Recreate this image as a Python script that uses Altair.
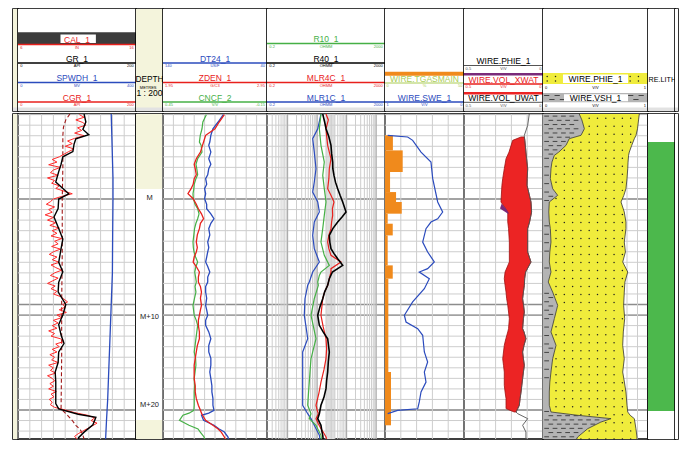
import altair as alt
import pandas as pd
import numpy as np

FONT = "Liberation Sans"
BLACK, RED, BLUE, GREEN = "#000000", "#e8201c", "#2b4bbd", "#46b046"
ORANGE, YELLOW, SHALE, FILLRED, PURPLE = "#f08a1c", "#f0ec3c", "#b4b4b4", "#ec2424", "#7a2a7a"
LITHGREEN, BEIGE, TGCOL = "#4cb84c", "#f4f4dc", "#a9cc55"
GRIDC, GRIDMAJ = "#cdcdcd", "#8c8c8c"

# ---------------- depth frame (metres relative to marker M)
D_TOP, D_BOT = -8.06, 22.75
GRID_D = list(range(-8, 23))
MAJOR_D = [0, 10, 11, 20]
DEPTH_LABELS = ["M", "M+10", "M+20"]
DEPTH_LABEL_D = [-0.1, 11.2, 19.5]
BEIGE_TOP = [D_TOP, 20.95]
BEIGE_BOT = [-0.95, D_BOT]

# ---------------- track 1
GR_D = [-8.06, -7.3, -6.6, -6.1, -5.7, -5.2, -4.5, -4.0, -3.3, -2.6,
        -1.6, -0.5, 0.0, 0.9, 1.7, 2.8, 3.8, 4.7, 6.0, 6.9,
        7.9, 8.8, 10.0, 11.0, 11.9, 12.9, 13.7, 14.5, 15.5, 16.4,
        17.3, 18.3, 19.4, 19.9, 20.4, 20.7, 21.4, 22.1, 22.6, 22.75]
GR_V = [112, 115, 110, 120, 98, 95, 93, 76, 73, 69,
        64, 86, 69, 68, 61, 69, 76, 73, 69, 76,
        69, 68, 81, 76, 69, 73, 78, 69, 68, 63,
        64, 64, 64, 69, 102, 132, 127, 112, 103, 102]
CGR_TOP, CGR_STEP = -8.0, 0.25
CGR_V = [104, 112, 98, 110, 115, 101, 108, 96, 112,
         96, 84, 92, 80, 95, 86, 78,
         70, 58, 66, 52, 72, 60, 55, 68, 50, 62, 57, 70, 64,
         78, 92, 74, 60,
         55, 48, 62, 52, 58, 46, 60, 50, 64, 54, 70, 58, 66, 56, 74, 62, 68, 57, 72, 60,
         53, 66, 58, 70, 56, 64, 74, 62, 55, 68, 59, 50, 63, 56, 66, 60, 72, 78, 84, 76,
         80, 70, 82, 66, 74, 60, 68, 58, 66, 52, 62, 56, 72, 78, 64, 70, 58, 66, 54, 62,
         57, 68, 52, 60, 55, 64, 50, 58, 62, 54, 60, 52, 65, 56, 61, 53, 58, 55, 62,
         80, 96, 118, 130, 124, 134, 126, 118, 110, 102, 96, 100]
CAL_D = [-8.06, -7.5, -6.8, -6.0, -3.0, 0.0, 5.0, 10.0, 15.0, 19.9, 20.5, 21.0, 21.45, 21.9, 22.4, 22.75]
CAL_V = [10.4, 10.05, 9.85, 9.8, 9.8, 9.75, 9.75, 9.7, 9.7, 9.65, 10.2, 10.6, 10.9, 11.3, 11.5, 11.6]
SP_D = [-8.06, -6.0, -2.0, 0.0, 3.0, 7.0, 10.0, 13.0, 16.0, 19.0, 21.0, 22.75]
SP_V = [316, 318, 322, 322, 321, 320, 316, 312, 308, 304, 300, 297]

# ---------------- track 3
T3_D = [-7.99, -7.3, -6.66, -6.04, -5.4, -5.09, -4.45, -3.82, -3.3, -2.87,
        -2.3, -1.93, -1.4, -0.98, -0.5, -0.03, 0.5, 0.92, 1.4, 1.87,
        2.3, 2.81, 3.4, 4.08, 4.6, 5.02, 5.5, 5.97, 6.4, 6.92,
        7.4, 7.87, 8.3, 8.82, 9.4, 10.08, 10.5, 11.02, 11.5, 11.97,
        12.6, 13.24, 13.9, 14.5, 15.1, 15.76, 16.4, 17.03, 17.7, 18.29,
        18.9, 19.55, 20.03, 20.3, 20.5, 20.98, 21.45, 21.8, 22.09, 22.56, 22.75]
DT_V = [82, 87, 92, 94, 95, 96, 94, 96, 94, 96,
        97, 99, 98, 100, 99, 100, 98, 98, 94, 91,
        94, 96, 95, 97, 96, 97, 98, 99, 97, 95,
        97, 97, 99, 99, 98, 99, 98, 97, 99, 99,
        96, 94, 96, 96, 94, 94, 95, 94, 93, 93,
        92, 92, 91, 96, 103, 101, 91, 86, 81, 77.5, 77]
ZDEN_V = [2.54, 2.49, 2.45, 2.36, 2.34, 2.33, 2.31, 2.27, 2.25, 2.26,
          2.27, 2.25, 2.24, 2.22, 2.19, 2.24, 2.27, 2.29, 2.32, 2.34,
          2.31, 2.30, 2.28, 2.27, 2.28, 2.27, 2.25, 2.24, 2.27, 2.30,
          2.29, 2.29, 2.31, 2.32, 2.31, 2.32, 2.31, 2.30, 2.29, 2.29,
          2.30, 2.30, 2.28, 2.27, 2.26, 2.25, 2.25, 2.25, 2.26, 2.26,
          2.27, 2.29, 2.31, 2.32, 2.33, 2.36, 2.43, 2.48, 2.51, 2.54, 2.55]
CNCF_V = [0.20, 0.22, 0.225, 0.235, 0.24, 0.23, 0.225, 0.25, 0.26, 0.255,
          0.25, 0.26, 0.27, 0.272, 0.277, 0.275, 0.265, 0.25, 0.242, 0.25,
          0.26, 0.268, 0.272, 0.277, 0.275, 0.271, 0.262, 0.25, 0.26, 0.267,
          0.262, 0.258, 0.265, 0.26, 0.268, 0.277, 0.274, 0.27, 0.258, 0.25,
          0.255, 0.26, 0.265, 0.27, 0.262, 0.26, 0.265, 0.27, 0.268, 0.27,
          0.27, 0.27, 0.272, 0.30, 0.335, 0.355, 0.30, 0.248, 0.235, 0.213, 0.21]

# ---------------- track 4 (resistivity, log)
R40_D = [-8.06, -7.3, -6.66, -5.9, -5.09, -4.3, -3.5, -2.9, -2.24, -1.6,
         -0.98, -0.35, 0.28, 0.8, 1.23, 1.7, 2.18, 2.8, 3.45, 4.1,
         4.71, 5.2, 5.66, 6.29, 6.92, 7.55, 8.18, 8.8, 9.45, 10.2,
         11.02, 11.97, 12.6, 13.24, 14.5, 15.4, 16.4, 17.2, 17.98, 18.8,
         19.55, 20.35, 20.82, 21.45, 22.0, 22.4, 22.75]
R40_V = [15.5, 18, 20, 25, 29.5, 31, 33.7, 34, 37.3, 42,
         49.8, 60, 73.6, 85, 95.2, 70, 49.8, 34, 25.9, 27,
         29.5, 38, 49.8, 73.6, 33, 25.9, 22.8, 18, 15.5, 12.5,
         10.5, 11.9, 16, 22.8, 25.9, 24, 22.8, 21, 20, 17,
         13.5, 11.9, 10.5, 13.5, 14.5, 15.5, 16]
MLR4C_D = [-8.06, -7.5, -6.66, -6.0, -5.09, -4.45, -3.82, -2.87, -1.93, -0.98,
           -0.3, 0.28, 0.9, 1.55, 2.18, 2.81, 3.45, 4.08, 4.71, 5.34,
           5.97, 6.6, 6.92, 7.55, 8.18, 8.8, 9.45, 10.2, 11.02, 12.1,
           13.24, 14.2, 15.14, 16.2, 17.35, 18.4, 19.55, 20.0, 20.35, 20.82,
           21.3, 21.77, 22.2, 22.56, 22.75]
MLR4C_V = [20, 24, 20, 21, 22.8, 25.9, 29.5, 25.9, 25, 22.8,
           30, 37.3, 33, 33.7, 31, 29.5, 25, 22.8, 25, 29.5,
           64.5, 29.5, 29.5, 25.9, 22.8, 18, 15.5, 14.5, 13.5, 16,
           20, 21, 20, 17, 13.5, 11.5, 9.16, 10, 11.0, 9.16,
           11, 13.5, 17, 20, 21]
R10_D = [-8.06, -6.66, -5.09, -3.5, -2.24, -0.98, 0.28, 1.55, 2.81, 4.08,
         5.34, 6.29, 6.92, 7.24, 7.87, 8.18, 9.45, 11.02, 12.1, 13.24,
         14.2, 15.14, 16.2, 17.35, 18.4, 19.55, 20.35, 20.82, 21.45, 22.4, 22.75]
R10_V = [13.5, 11.9, 13.5, 17.5, 15.5, 17.5, 20, 17.5, 15.5, 13.5,
         17.5, 25.9, 13.5, 11.9, 10.5, 11.0, 8.0, 6.2, 7.5, 9.16,
         7.5, 6.2, 5.8, 5.43, 5.1, 4.8, 6.2, 5.43, 9.16, 13.5, 14]
MLR1C_D = [-8.06, -6.66, -5.72, -4.45, -2.87, -1.61, -0.66, 0.28, 1.23, 2.18,
           3.45, 4.71, 5.97, 6.92, 7.87, 8.18, 9.45, 11.02, 12.1, 13.24,
           14.5, 16.4, 18.29, 19.55, 20.35, 20.82, 21.45, 22.4, 22.75]
MLR1C_V = [13.5, 10.5, 7.08, 8.02, 9.16, 8.02, 7.08, 10.5, 11.9, 8.02,
           7.08, 8.02, 11.9, 7.08, 5.43, 4.8, 3.88, 3.67, 4.2, 4.8,
           3.24, 3.24, 3.24, 3.24, 4.8, 6.2, 8.02, 11.9, 12.5]
RES_BAND = [20, 40]

# ---------------- track 5
TG_TOP = [-6.04, -4.61, -2.56, -0.66, 0.28, 1.39, 2.34, 3.45, 6.29, 7.55, 16.4]
TG_BOT = [-4.61, -2.56, -0.66, 0.28, 1.39, 2.34, 3.45, 6.29, 7.55, 16.4, 21.45]
TG_V = [5.0, 11.2, 3.2, 7.0, 10.6, 1.7, 4.9, 1.7, 4.9, 2.1, 3.8]
SWE_D = [-6.04, -5.88, -5.56, -4.45, -3.5, -1.93, 0.28, 1.23, 1.87, 2.18,
         2.81, 4.08, 5.02, 5.97, 6.6, 6.92, 7.55, 8.5, 9.76, 11.02,
         11.66, 12.29, 12.92, 14.5, 15.45, 16.4, 17.35, 18.29, 19.24, 19.88,
         20.03, 20.35]
SWE_V = [0.966, 0.713, 0.65, 0.544, 0.418, 0.396, 0.333, 0.27, 0.333, 0.418,
         0.481, 0.523, 0.46, 0.376, 0.46, 0.566, 0.439, 0.502, 0.65, 0.755,
         0.734, 0.586, 0.523, 0.502, 0.46, 0.502, 0.481, 0.544, 0.566, 0.586,
         0.84, 0.966]

# ---------------- track 6
RED_D = [-5.88, -5.56, -4.45, -3.82, -2.87, -1.93, -1.3, 0.28, 1.23, 2.18,
         2.81, 4.08, 5.02, 5.97, 6.92, 7.55, 8.18, 8.82, 9.45, 10.08,
         10.71, 11.34, 12.29, 12.6, 13.24, 13.87, 14.5, 15.14, 15.76, 16.4,
         17.03, 17.66, 18.29, 18.92, 19.55, 19.87, 20.19]
RED_R = [0.118, 0.115, 0.108, 0.104, 0.097, 0.100, 0.101, 0.076, 0.072, 0.085,
         0.097, 0.097, 0.097, 0.076, 0.11, 0.116, 0.118, 0.124, 0.129, 0.123,
         0.118, 0.124, 0.129, 0.12, 0.108, 0.12, 0.129, 0.124, 0.118, 0.124,
         0.129, 0.134, 0.139, 0.145, 0.150, 0.16, 0.171]
RED_L = [0.139, 0.192, 0.215, 0.234, 0.245, 0.255, 0.26, 0.266, 0.223, 0.223,
         0.218, 0.213, 0.213, 0.213, 0.24, 0.245, 0.24, 0.234, 0.23, 0.223,
         0.218, 0.213, 0.218, 0.223, 0.235, 0.245, 0.25, 0.255, 0.25, 0.245,
         0.245, 0.245, 0.24, 0.234, 0.234, 0.234, 0.182]
PHIE_TOP_D, PHIE_TOP_V = [-8.06, -6.98, -6.04], [0.087, 0.097, 0.118]
PHIE_BOT_D, PHIE_BOT_V = [20.35, 20.82, 21.45, 22.09, 22.75], [0.16, 0.097, 0.129, 0.108, 0.108]
PURP_D = [0.44, 0.9, 1.39]
PURP_A = [0.262, 0.272, 0.222]
PURP_B = [0.262, 0.235, 0.215]

# ---------------- track 7
T7_D = [-8.06, -7.5, -6.66, -6.04, -5.72, -5.09, -4.45, -4.14, -3.5, -2.87,
        -1.93, -0.98, -0.35, 0.28, 1.23, 2.18, 2.81, 4.08, 5.02, 5.97,
        6.92, 7.87, 8.82, 10.08, 11.34, 12.6, 13.87, 15.14, 16.4, 17.35,
        18.29, 19.55, 20.19, 20.5, 20.82, 21.14, 21.77, 22.56, 22.75]
VSH_V = [0.345, 0.37, 0.394, 0.362, 0.25, 0.219, 0.15, 0.108, 0.085, 0.076,
         0.07, 0.092, 0.14, 0.06, 0.055, 0.06, 0.07, 0.076, 0.065, 0.06,
         0.076, 0.05, 0.092, 0.14, 0.108, 0.076, 0.124, 0.092, 0.076, 0.065,
         0.06, 0.06, 0.076, 0.33, 0.648, 0.552, 0.426, 0.33, 0.32]
SAND_V = [0.917, 0.91, 0.9, 0.886, 0.87, 0.845, 0.822, 0.815, 0.81, 0.807,
          0.80, 0.79, 0.77, 0.743, 0.774, 0.79, 0.79, 0.774, 0.785, 0.759,
          0.807, 0.78, 0.774, 0.768, 0.778, 0.765, 0.759, 0.774, 0.759, 0.775,
          0.79, 0.8, 0.807, 0.83, 0.87, 0.875, 0.885, 0.895, 0.895]

# ---------------- track 8
LITH_TOP, LITH_BOT = [-5.4], [20.1]

# ---------------- headers (names, units, scale ends)
T1_NAMES = ["CAL_1", "GR_1", "SPWDH_1", "CGR_1"]
T1_UNITS = ["IN", "API", "MV", "API"]
T1_LO, T1_HI = ["6", "0", "0", "0"], ["16", "200", "400", "200"]
T3_NAMES = ["DT24_1", "ZDEN_1", "CNCF_2"]
T3_UNITS = ["US/F", "G/C3", "V/V"]
T3_LO, T3_HI = ["140", "1.95", "0.45"], ["40", "2.95", "-0.15"]
T4_NAMES = ["R10_1", "R40_1", "MLR4C_1", "MLR1C_1"]
T4_UNITS = ["OHMM"] * 4
T4_LO, T4_HI = ["0.2"] * 4, ["2000"] * 4
T5_NAMES = ["WIRE.TGASMAIN", "WIRE.SWE_1"]
T5_UNITS = ["%", "V/V"]
T5_LO, T5_HI = ["0", "1"], ["50", "0"]
T6_NAMES = ["WIRE.PHIE_1", "WIRE.VOL_XWAT", "WIRE.VOL_UWAT"]
T6_UNITS = ["V/V"] * 3
T6_LO, T6_HI = ["0.5"] * 3, ["0"] * 3
T7_NAMES = ["WIRE.PHIE_1", "WIRE.VSH_1"]
T7_UNITS = ["V/V", "V/V"]
T7_LO, T7_HI = ["0", "0"], ["1", "1"]
T8_NAME = "RE.LITH"
DEPTH_HDR = ["DEPTH", "METRES", "1 : 200"]

assert len(GR_D) == len(GR_V) and len(CAL_D) == len(CAL_V) and len(SP_D) == len(SP_V)
assert len(CGR_V) == 124
assert len(T3_D) == len(DT_V) == len(ZDEN_V) == len(CNCF_V)
assert len(R40_D) == len(R40_V) and len(MLR4C_D) == len(MLR4C_V)
assert len(R10_D) == len(R10_V) and len(MLR1C_D) == len(MLR1C_V)
assert len(SWE_D) == len(SWE_V) and len(RED_D) == len(RED_R) == len(RED_L)
assert len(T7_D) == len(VSH_V) == len(SAND_V)

# ---------------- layout
BODY_H, HDR_H = 325, 102
W_STRIP, W_T1, W_DEP, W_T3, W_T4, W_T5, W_T6, W_T7, W_T8, W_END = 5, 118, 27, 104, 118, 79, 79, 105, 27, 3

YS = alt.Scale(domain=[D_TOP, D_BOT], reverse=True, nice=False, zero=False)


def ys(f="d"):
    return alt.Y(f"{f}:Q", scale=YS, axis=None)


def xs(f, dom, typ="linear"):
    return alt.X(f"{f}:Q", scale=alt.Scale(domain=dom, type=typ, nice=False, zero=False), axis=None)


def hgrid():
    minor = alt.Chart(pd.DataFrame({"d": GRID_D})).mark_rule(color=GRIDC, strokeWidth=1).encode(y=ys())
    major = alt.Chart(pd.DataFrame({"d": MAJOR_D})).mark_rule(color=GRIDMAJ, strokeWidth=1.3).encode(y=ys())
    return [minor, major]


def vgrid(vals, dom, typ="linear", color=GRIDC, sw=1):
    return alt.Chart(pd.DataFrame({"g": vals})).mark_rule(color=color, strokeWidth=sw).encode(x=xs("g", dom, typ))


def curve(d, v, dom, color, sw=1.2, typ="linear", dash=None):
    mk = dict(color=color, strokeWidth=sw, clip=True)
    if dash:
        mk["strokeDash"] = dash
    return alt.Chart(pd.DataFrame({"d": d, "v": v})).mark_line(**mk).encode(
        x=xs("v", dom, typ), y=ys(), order="d:Q")


def band(d, a, b, dom, color, stroke=None):
    mk = dict(color=color, orient="horizontal", clip=True)
    if stroke:
        mk.update(stroke=stroke, strokeWidth=0.8)
    return alt.Chart(pd.DataFrame({"d": d, "a": a, "b": b})).mark_area(**mk).encode(
        x=xs("a", dom), x2="b", y=ys())


def body(width, layers):
    return alt.layer(*layers).resolve_scale(x="independent").properties(width=width, height=BODY_H)


def full_rect(color):
    return alt.Chart(pd.DataFrame({"d1": [D_TOP], "d2": [D_BOT]})).mark_rect(color=color).encode(y=ys("d1"), y2="d2")


# ---- track bodies
b_strip = body(W_STRIP, [full_rect(BEIGE)])

cgr_d = [CGR_TOP + CGR_STEP * i for i in range(len(CGR_V))]
b_t1 = body(W_T1, hgrid() + [
    vgrid(list(range(0, 201, 20)), [0, 200]),
    curve(SP_D, SP_V, [0, 400], BLUE, 1.3),
    curve(CAL_D, CAL_V, [6, 16], "#a01818", 1.1, dash=[4, 2.5]),
    curve(cgr_d, CGR_V, [0, 200], "#ff2a2a", 1.0),
    curve(GR_D, GR_V, [0, 200], BLACK, 1.4),
])

dep_rect = alt.Chart(pd.DataFrame({"d1": BEIGE_TOP, "d2": BEIGE_BOT})).mark_rect(color=BEIGE).encode(y=ys("d1"), y2="d2")
dep_txt = alt.Chart(pd.DataFrame({"d": DEPTH_LABEL_D, "t": DEPTH_LABELS, "xp": [0.5] * 3})).mark_text(
    font=FONT, fontSize=7.5, color="#222", align="center", baseline="middle").encode(
    x=xs("xp", [0, 1]), y=ys(), text="t:N")
b_dep = body(W_DEP, [full_rect("white"), dep_rect, dep_txt])

b_t3 = body(W_T3, hgrid() + [
    vgrid(list(range(140, 39, -10)), [140, 40]),
    curve(T3_D, CNCF_V, [0.45, -0.15], GREEN, 1.2),
    curve(T3_D, DT_V, [140, 40], BLUE, 1.3),
    curve(T3_D, ZDEN_V, [1.95, 2.95], RED, 1.3),
])

LOG_GRID = [k * 10 ** n for n in range(-1, 4) for k in range(1, 10) if 0.2 <= k * 10 ** n <= 2000]
res_band = alt.Chart(pd.DataFrame({"a": [RES_BAND[0]], "b": [RES_BAND[1]]})).mark_rect(color="#dedede").encode(
    x=xs("a", [0.2, 2000], "log"), x2="b")
b_t4 = body(W_T4, [res_band] + hgrid() + [
    vgrid(LOG_GRID, [0.2, 2000], "log"),
    vgrid([1, 10, 100, 1000], [0.2, 2000], "log", color="#a8a8a8"),
    curve(MLR1C_D, MLR1C_V, [0.2, 2000], BLUE, 1.2, "log"),
    curve(R10_D, R10_V, [0.2, 2000], GREEN, 1.2, "log"),
    curve(MLR4C_D, MLR4C_V, [0.2, 2000], RED, 1.2, "log"),
    curve(R40_D, R40_V, [0.2, 2000], BLACK, 1.6, "log"),
])

tg = alt.Chart(pd.DataFrame({"d1": TG_TOP, "d2": TG_BOT, "v": TG_V, "lo": [0] * len(TG_V)})).mark_rect(
    color=ORANGE).encode(x=xs("lo", [0, 50]), x2="v", y=ys("d1"), y2="d2")
b_t5 = body(W_T5, hgrid() + [
    vgrid(list(range(0, 51, 10)), [0, 50]),
    tg,
    curve(SWE_D, SWE_V, [1, 0], BLUE, 1.2),
])

phie_d = PHIE_TOP_D + RED_D + PHIE_BOT_D
phie_v = PHIE_TOP_V + RED_R + PHIE_BOT_V
b_t6 = body(W_T6, hgrid() + [
    vgrid([0.5, 0.4, 0.3, 0.2, 0.1, 0.0], [0.5, 0]),
    band(RED_D, RED_L, RED_R, [0.5, 0], FILLRED, stroke="#a01010"),
    band(PURP_D, PURP_A, PURP_B, [0.5, 0], PURPLE),
    curve(phie_d, phie_v, [0.5, 0], "#555555", 0.9),
])

# textures for the lithology track (dots for sand, dashes for shale)
dots, dashes = [], []
d = D_TOP + 0.4
while d < D_BOT:
    vs = float(np.interp(d, T7_D, VSH_V))
    sd = float(np.interp(d, T7_D, SAND_V))
    v = 0.045
    while v < 1:
        if vs + 0.02 < v < sd - 0.02:
            dots.append((d, v))
        v += 0.079
    d += 0.76
i = 0
d = D_TOP + 0.2
while d < D_BOT:
    vs = float(np.interp(d, T7_D, VSH_V))
    v = 0.012 + (i % 2) * 0.04
    while v + 0.045 < vs - 0.008:
        dashes.append((d, v, v + 0.045))
        v += 0.08
    d += 0.4
    i += 1
dot_layer = alt.Chart(pd.DataFrame(dots, columns=["d", "v"])).mark_circle(size=2.2, color="#222", opacity=1).encode(
    x=xs("v", [0, 1]), y=ys())
dash_layer = alt.Chart(pd.DataFrame(dashes, columns=["d", "a", "b"])).mark_rule(color="#444", strokeWidth=1).encode(
    x=xs("a", [0, 1]), x2="b", y=ys())
zeros = [0.0] * len(T7_D)
b_t7 = body(W_T7, hgrid() + [
    vgrid([k / 10 for k in range(11)], [0, 1]),
    band(T7_D, zeros, VSH_V, [0, 1], SHALE),
    dash_layer,
    band(T7_D, VSH_V, SAND_V, [0, 1], YELLOW),
    dot_layer,
    curve(T7_D, VSH_V, [0, 1], "#333", 0.8),
    curve(T7_D, SAND_V, [0, 1], "#333", 0.8),
])

lith = alt.Chart(pd.DataFrame({"d1": LITH_TOP, "d2": LITH_BOT})).mark_rect(color=LITHGREEN).encode(y=ys("d1"), y2="d2")
b_t8 = body(W_T8, [full_rect("white"), lith])
b_end = body(W_END, [full_rect("white")])

# ---- headers
HX = alt.Scale(domain=[0, 1], nice=False, zero=False)
HY = alt.Scale(domain=[0, HDR_H], reverse=True, nice=False, zero=False)


def hx(f):
    return alt.X(f"{f}:Q", scale=HX, axis=None)


def hy(f):
    return alt.Y(f"{f}:Q", scale=HY, axis=None)


def rect_layer(rows):
    return alt.Chart(pd.DataFrame(rows)).mark_rect().encode(
        x=hx("x"), x2="x2", y=hy("y"), y2="y2", color=alt.Color("c:N", scale=None))


def text_layer(rows, size, align="center", baseline="alphabetic"):
    return alt.Chart(pd.DataFrame(rows)).mark_text(font=FONT, fontSize=size, align=align, baseline=baseline).encode(
        x=hx("x"), y=hy("y"), text="t:N", color=alt.Color("c:N", scale=None))


def curves_spec(names, units, los, his, colors, lines, name_colors=None, widths=None):
    out = []
    for k in range(len(names)):
        out.append(dict(name=names[k], unit=units[k], lo=los[k], hi=his[k], color=colors[k], line=lines[k],
                        nc=(name_colors or colors)[k], w=(widths or [1.5] * len(names))[k]))
    return out


def header(width, curves, under=(), over=(), extra_rules=(), texture=(), texts=(), bg="white"):
    rows = [dict(x=0, x2=1, y=0, y2=HDR_H, c=bg), dict(x=0, x2=1, y=HDR_H - 3.5, y2=HDR_H, c="#e2e2e2")] + list(under)
    layers = [rect_layer(rows)] + list(texture)
    if over:
        layers.append(rect_layer(list(over)))
    rules = [dict(x=0, x2=1, y=c["line"], c=c["color"], w=c["w"]) for c in curves] + list(extra_rules)
    if rules:
        layers.append(alt.Chart(pd.DataFrame(rules)).mark_rule().encode(
            x=hx("x"), x2="x2", y=hy("y"), color=alt.Color("c:N", scale=None), size=alt.Size("w:Q", scale=None)))
    if curves:
        layers.append(text_layer([dict(x=0.5, y=c["line"] - 1.5, t=c["name"], c=c["nc"]) for c in curves], 8.5))
        layers.append(text_layer([dict(x=0.02, y=c["line"] + 1.2, t=c["lo"], c=c["color"]) for c in curves], 4, "left", "top"))
        layers.append(text_layer([dict(x=0.5, y=c["line"] + 1.2, t=c["unit"], c=c["color"]) for c in curves], 4, "center", "top"))
        layers.append(text_layer([dict(x=0.98, y=c["line"] + 1.2, t=c["hi"], c=c["color"]) for c in curves], 4, "right", "top"))
    for rowset, size, align, baseline in texts:
        layers.append(text_layer(rowset, size, align, baseline))
    return alt.layer(*layers).properties(width=width, height=HDR_H)


h_strip = header(W_STRIP, [], bg=BEIGE)
h_t1 = header(W_T1, curves_spec(T1_NAMES, T1_UNITS, T1_LO, T1_HI, [RED, BLACK, BLUE, RED], [35.5, 54, 73.5, 93]),
              under=[dict(x=0, x2=1, y=23.3, y2=35, c="#3c3c3c")],
              over=[dict(x=0.36, x2=0.66, y=25.5, y2=34, c="white")])
h_dep = header(W_DEP, [], bg=BEIGE, texts=[
    ([dict(x=0.5, y=73.3, t=DEPTH_HDR[0], c=BLACK)], 8.3, "center", "alphabetic"),
    ([dict(x=0.45, y=76.5, t=DEPTH_HDR[1], c=BLACK)], 4, "center", "top"),
    ([dict(x=0.5, y=87.3, t=DEPTH_HDR[2], c=BLACK)], 8.5, "center", "alphabetic"),
])
h_t3 = header(W_T3, curves_spec(T3_NAMES, T3_UNITS, T3_LO, T3_HI, [BLUE, RED, GREEN], [54, 73.5, 93]))
h_t4 = header(W_T4, curves_spec(T4_NAMES, T4_UNITS, T4_LO, T4_HI, [GREEN, BLACK, RED, BLUE], [34.5, 54, 73.5, 93]))
h_t5 = header(W_T5, curves_spec(T5_NAMES, T5_UNITS, T5_LO, T5_HI, [TGCOL, BLUE], [74, 93], widths=[1, 1.5]),
              under=[dict(x=0, x2=1, y=62.7, y2=66.7, c=ORANGE)])
h_t6 = header(W_T6, curves_spec(T6_NAMES, T6_UNITS, T6_LO, T6_HI, ["#555555", RED, "#555555"], [56.5, 75, 93.3],
                                name_colors=[BLACK, RED, BLACK], widths=[1, 1.5, 1]),
              extra_rules=[dict(x=0, x2=1, y=65.3, c=PURPLE, w=2.5), dict(x=0, x2=1, y=84.3, c=FILLRED, w=2.5)])

# track 7 header: pattern bands with boxed names
hdots = [dict(x=0.04 + 0.079 * k, y=yy) for yy in (67.5, 72) for k in range(12)]
hdash = [dict(x=0.01 + (j % 2) * 0.05 + 0.1 * k, x2=0.06 + (j % 2) * 0.05 + 0.1 * k, y=yy)
         for j, yy in enumerate((86.5, 90.5)) for k in range(10) if 0.06 + (j % 2) * 0.05 + 0.1 * k <= 1]
h7_tex = [
    alt.Chart(pd.DataFrame(hdots)).mark_circle(size=2.2, color="#222", opacity=1).encode(x=hx("x"), y=hy("y")),
    alt.Chart(pd.DataFrame(hdash)).mark_rule(color="#444", strokeWidth=1).encode(x=hx("x"), x2="x2", y=hy("y")),
]
h_t7 = header(W_T7, [], under=[dict(x=0, x2=1, y=64, y2=75, c=YELLOW), dict(x=0, x2=1, y=84, y2=93.3, c=SHALE)],
              texture=h7_tex,
              over=[dict(x=0.19, x2=0.81, y=65.5, y2=74, c="white"), dict(x=0.2, x2=0.81, y=85.2, y2=92.3, c="white")],
              texts=[
                  ([dict(x=0.5, y=73, t=T7_NAMES[0], c=BLACK), dict(x=0.5, y=91.8, t=T7_NAMES[1], c=BLACK)], 8.5, "center", "alphabetic"),
                  ([dict(x=0.02, y=76.5, t=T7_LO[0], c=BLACK), dict(x=0.02, y=94.5, t=T7_LO[1], c=BLACK)], 4, "left", "top"),
                  ([dict(x=0.5, y=76.5, t=T7_UNITS[0], c=BLACK), dict(x=0.5, y=94.5, t=T7_UNITS[1], c=BLACK)], 4, "center", "top"),
                  ([dict(x=0.98, y=76.5, t=T7_HI[0], c=BLACK), dict(x=0.98, y=94.5, t=T7_HI[1], c=BLACK)], 4, "right", "top"),
              ])
h_t8 = header(W_T8, [], texts=[([dict(x=0.02, y=73.3, t=T8_NAME, c=BLACK)], 7.2, "left", "alphabetic")])
h_end = header(W_END, [])

top = alt.hconcat(h_strip, h_t1, h_dep, h_t3, h_t4, h_t5, h_t6, h_t7, h_t8, h_end, spacing=0, bounds="flush")
bot = alt.hconcat(b_strip, b_t1, b_dep, b_t3, b_t4, b_t5, b_t6, b_t7, b_t8, b_end, spacing=0, bounds="flush")
chart = alt.vconcat(top, bot, spacing=0).properties(
    padding={"left": 4, "top": 0, "right": 0, "bottom": 0},
    background="white",
).configure_view(stroke=BLACK, strokeWidth=1.6)

chart.save("out.html", embed_options={"renderer": "svg", "actions": False})
